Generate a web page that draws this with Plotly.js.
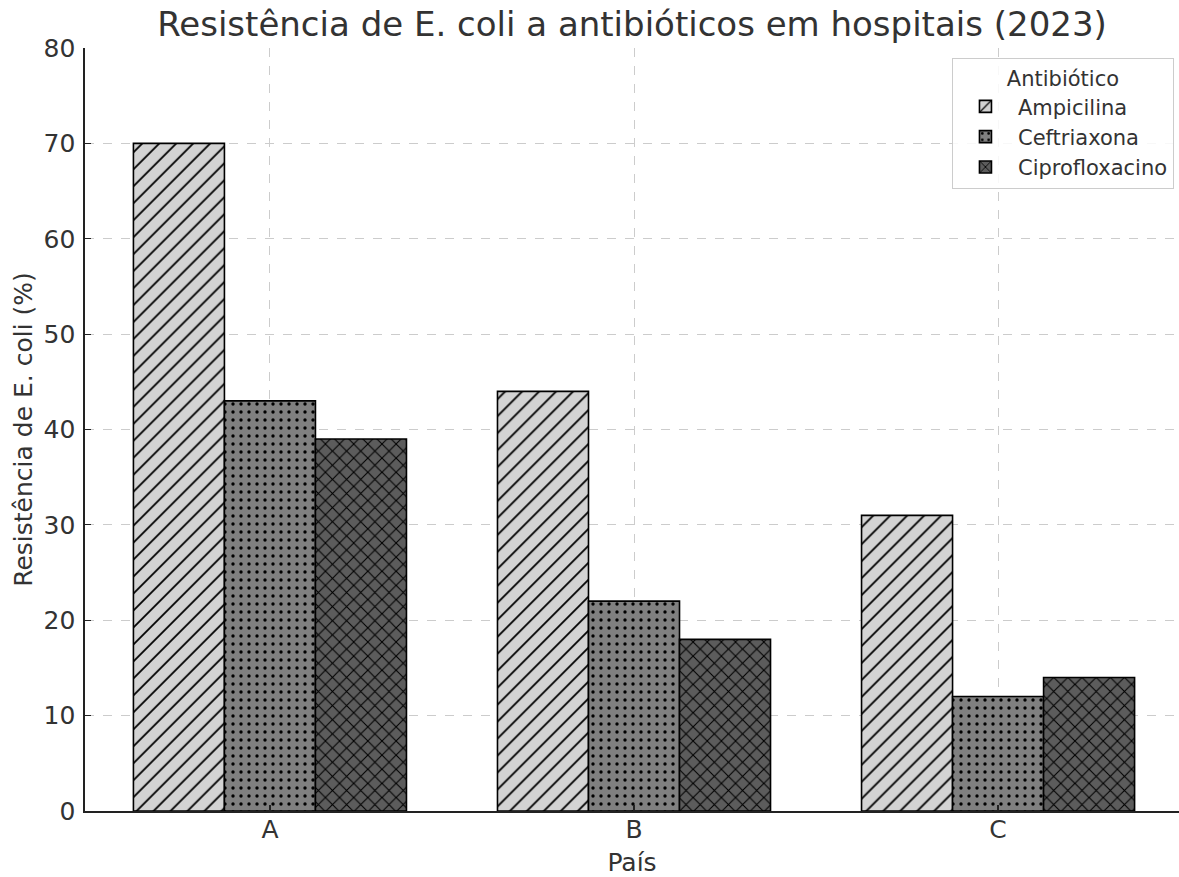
<!DOCTYPE html>
<html>
<head>
<meta charset="utf-8">
<script src="https://cdn.plot.ly/plotly-3.0.1.min.js"></script>
<style>html,body{margin:0;padding:0;background:#fff;}#chart{width:1179px;height:877px;}</style>
</head>
<body>
<div id="chart"></div>
<script>
const countries = ["A", "B", "C"];
const ampicilina = [70, 44, 31];
const ceftriaxona = [43, 22, 12];
const ciprofloxacino = [39, 18, 14];
const seriesNames = ["Ampicilina", "Ceftriaxona", "Ciprofloxacino"];
const yTicks = [0, 10, 20, 30, 40, 50, 60, 70, 80];

const font = "DejaVu Sans, sans-serif";
const txt = "#333333";

function mk(name, vals, color, shape, size, solidity) {
  return {
    type: "bar", name: name, x: countries, y: vals,
    marker: {
      color: color,
      line: {color: "#000000", width: 1.6},
      pattern: {shape: shape, fgcolor: "#000000", bgcolor: color, size: size, solidity: solidity, fillmode: "replace"}
    },
    hoverinfo: "x+y+name"
  };
}

const data = [
  mk(seriesNames[0], ampicilina, "#d3d3d3", "/", 12, 0.15),
  mk(seriesNames[1], ceftriaxona, "#808080", ".", 8, 0.14),
  mk(seriesNames[2], ciprofloxacino, "#5c5c5c", "x", 10, 0.2)
];

const layout = {
  width: 1179, height: 877,
  margin: {l: 85, r: 0, t: 48, b: 66},
  paper_bgcolor: "#ffffff", plot_bgcolor: "#ffffff",
  font: {family: font, color: txt, size: 24},
  barmode: "group", bargap: 0.25, bargroupgap: 0,
  title: {text: "Resistência de E. coli a antibióticos em hospitais (2023)", font: {size: 34, color: txt, family: font}, x: 0.5, xref: "paper", y: 0.973, yref: "container", yanchor: "middle"},
  xaxis: {
    type: "category", range: [-0.508, 2.497],
    title: {text: "País", font: {size: 25, color: txt}, standoff: 14},
    tickfont: {size: 25, color: txt},
    showgrid: true, gridcolor: "#cccccc", griddash: "dash", gridwidth: 1,
    showline: true, linecolor: "#222222", linewidth: 1.6,
    ticks: "inside", ticklen: 6, tickcolor: "#222222", tickwidth: 1.2,
    ticklabelstandoff: -5, zeroline: false, fixedrange: true
  },
  yaxis: {
    range: [0, 80], tickvals: yTicks, ticktext: yTicks.map(String),
    title: {text: "Resistência de E. coli (%)", font: {size: 25, color: txt}, standoff: 4},
    tickfont: {size: 25, color: txt},
    showgrid: true, gridcolor: "#cccccc", griddash: "dash", gridwidth: 1,
    showline: true, linecolor: "#222222", linewidth: 1.6,
    ticks: "inside", ticklen: 6, tickcolor: "#222222", tickwidth: 1.2,
    ticklabelstandoff: 3, zeroline: false, fixedrange: true
  },
  legend: {
    x: 0.9954, xanchor: "right", y: 0.987, yanchor: "top",
    bgcolor: "rgba(255,255,255,0.85)", bordercolor: "#cccccc", borderwidth: 1,
    font: {size: 21, color: txt},
    title: {text: "Antibiótico", side: "top center", font: {size: 21, color: txt}},
    itemwidth: 55
  },
  showlegend: true
};

Plotly.newPlot("chart", data, layout, {displayModeBar: false, staticPlot: true});
</script>
</body>
</html>
